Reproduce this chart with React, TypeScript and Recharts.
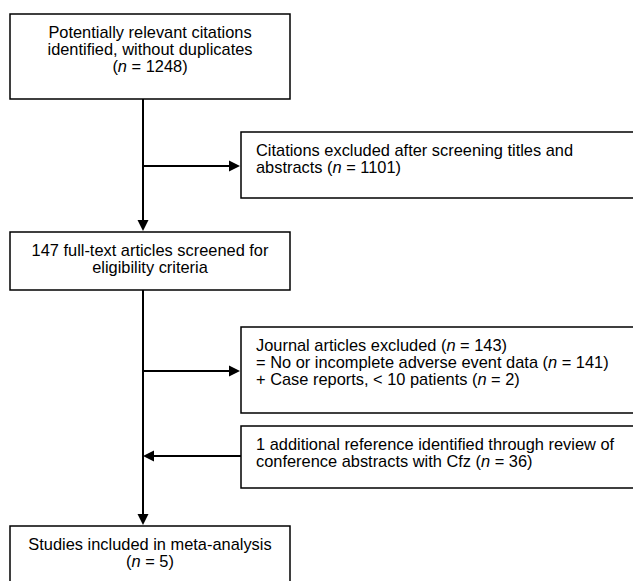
// Flow diagram of study selection, drawn on a Recharts plot whose axes
// span the picture 1:1 so boxes and arrows sit on the library's scales.

import {
  ComposedChart,
  XAxis,
  YAxis,
  ReferenceArea,
  ReferenceLine,
  ReferenceDot,
  Label,
} from 'recharts'

// counts
const citationCounts = [1248, 1101] // identified, excluded on title/abstract
const fullTextCount = 147
const exclusionCounts = [143, 141, 2] // total, no AE data, case reports
const conferenceCounts = [1, 36] // references added, abstracts reviewed
const includedCount = 5

// box texts, _n_ marks the italic n
const boxTexts: string[][] = [
  [
    'Potentially relevant citations',
    'identified, without duplicates',
    `(_n_ = ${citationCounts[0]})`,
  ],
  [
    'Citations excluded after screening titles and',
    `abstracts (_n_ = ${citationCounts[1]})`,
  ],
  [`${fullTextCount} full-text articles screened for`, 'eligibility criteria'],
  [
    `Journal articles excluded (_n_ = ${exclusionCounts[0]})`,
    `= No or incomplete adverse event data (_n_ = ${exclusionCounts[1]})`,
    `+ Case reports, < 10 patients (_n_ = ${exclusionCounts[2]})`,
  ],
  [
    `${conferenceCounts[0]} additional reference identified through review of`,
    `conference abstracts with Cfz (_n_ = ${conferenceCounts[1]})`,
  ],
  ['Studies included in meta-analysis', `(_n_ = ${includedCount})`],
]

// layout, in picture pixels
const W = 633
const H = 581
const boxes = [
  { x1: 10, x2: 290, y1: 14, y2: 99, align: 'center' },
  { x1: 241, x2: 680, y1: 132, y2: 198, align: 'left' },
  { x1: 10, x2: 290, y1: 232, y2: 290, align: 'center' },
  { x1: 241, x2: 680, y1: 327, y2: 413, align: 'left' },
  { x1: 241, x2: 680, y1: 426, y2: 488, align: 'left' },
  { x1: 10, x2: 290, y1: 526, y2: 640, align: 'center' },
]
const arrows = [
  { from: [143, 99], to: [143, 231] },
  { from: [143, 166], to: [240, 166] },
  { from: [143, 290], to: [143, 525] },
  { from: [143, 371], to: [240, 371] },
  { from: [241, 456], to: [143, 456] },
]
const HEAD_LEN = 11
const HEAD_HALF = 5.5
const FONT = "'Liberation Sans', Arial, Helvetica, sans-serif"
const FONT_SIZE = 16.4
const LINE_GAP = 17

function renderLine(line: string) {
  return line.split(/(_n_)/).map((part, i) =>
    part === '_n_' ? (
      <tspan key={i} fontStyle="italic">
        n
      </tspan>
    ) : (
      <tspan key={i}>{part}</tspan>
    ),
  )
}

function BoxText(props: any) {
  const { viewBox, lines, align } = props
  if (!viewBox) return null
  const { x, y, width } = viewBox
  const tx = align === 'center' ? x + width / 2 : x + 15
  return (
    <text
      textAnchor={align === 'center' ? 'middle' : 'start'}
      fontFamily={FONT}
      fontSize={FONT_SIZE}
      fill="#000"
    >
      {lines.map((line: string, i: number) => (
        <tspan key={i} x={tx} y={y + 23.5 + i * LINE_GAP}>
          {renderLine(line)}
        </tspan>
      ))}
    </text>
  )
}

function arrowHead(dx: number, dy: number) {
  return (p: any) => {
    const { cx, cy } = p
    const len = Math.hypot(dx, dy)
    const ux = dx / len
    const uy = dy / len
    const bx = cx - ux * HEAD_LEN
    const by = cy - uy * HEAD_LEN
    const pts = [
      [cx, cy],
      [bx - uy * HEAD_HALF, by + ux * HEAD_HALF],
      [bx + uy * HEAD_HALF, by - ux * HEAD_HALF],
    ]
    return <polygon points={pts.map((q) => q.join(',')).join(' ')} fill="#000" />
  }
}

export default function App() {
  return (
    <div style={{ width: W, height: H, background: '#fff' }}>
      <style>{'body{margin:0}'}</style>
      <ComposedChart
        width={W}
        height={H}
        data={[]}
        margin={{ top: 0, right: 0, bottom: 0, left: 0 }}
      >
        <XAxis type="number" dataKey="x" domain={[0, W]} hide allowDataOverflow />
        <YAxis
          type="number"
          dataKey="y"
          domain={[0, H]}
          reversed
          hide
          allowDataOverflow
        />
        {arrows.map((a, i) => {
          const dx = a.to[0] - a.from[0]
          const dy = a.to[1] - a.from[1]
          const len = Math.hypot(dx, dy)
          const end = [
            a.to[0] - (dx / len) * (HEAD_LEN - 3),
            a.to[1] - (dy / len) * (HEAD_LEN - 3),
          ]
          return (
            <ReferenceLine
              key={`l${i}`}
              segment={[
                { x: a.from[0], y: a.from[1] },
                { x: end[0], y: end[1] },
              ]}
              stroke="#000"
              strokeWidth={2}
              ifOverflow="visible"
            />
          )
        })}
        {boxes.map((b, i) => (
          <ReferenceArea
            key={`b${i}`}
            x1={b.x1}
            x2={b.x2}
            y1={b.y1}
            y2={b.y2}
            fill="#fff"
            fillOpacity={1}
            stroke="#000"
            strokeWidth={1.5}
            ifOverflow="visible"
          >
            <Label content={<BoxText lines={boxTexts[i]} align={b.align} />} />
          </ReferenceArea>
        ))}
        {arrows.map((a, i) => (
          <ReferenceDot
            key={`h${i}`}
            x={a.to[0]}
            y={a.to[1]}
            r={1}
            ifOverflow="visible"
            shape={arrowHead(a.to[0] - a.from[0], a.to[1] - a.from[1])}
          />
        ))}
      </ComposedChart>
    </div>
  )
}
